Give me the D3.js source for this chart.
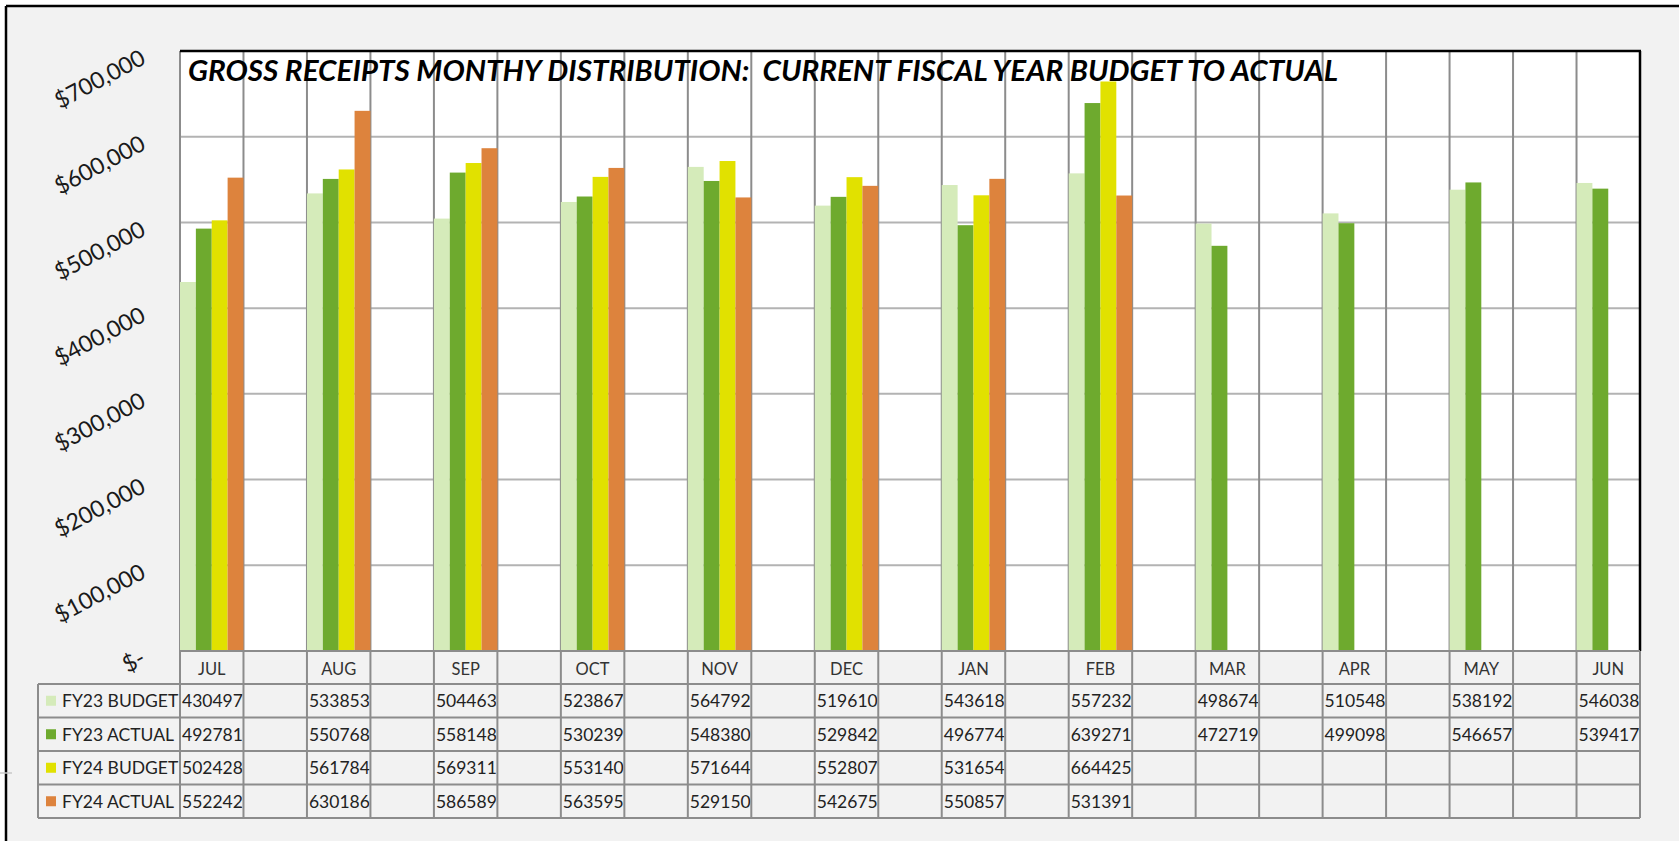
<!DOCTYPE html>
<html>
<head>
<meta charset="utf-8">
<script src="https://cdn.jsdelivr.net/npm/d3@7"></script>
<style>
  html, body { margin: 0; padding: 0; background: #ffffff; }
  svg { display: block; }
  text { font-family: Lato, "Open Sans", sans-serif; }
</style>
</head>
<body>
<svg id="chart" width="1679" height="841"></svg>
<script>
// ---- data ----
const months = ["JUL", "AUG", "SEP", "OCT", "NOV", "DEC", "JAN", "FEB", "MAR", "APR", "MAY", "JUN"];
const seriesNames = ["FY23 BUDGET", "FY23 ACTUAL", "FY24 BUDGET", "FY24 ACTUAL"];
const fy23Budget = [430497, 533853, 504463, 523867, 564792, 519610, 543618, 557232, 498674, 510548, 538192, 546038];
const fy23Actual = [492781, 550768, 558148, 530239, 548380, 529842, 496774, 639271, 472719, 499098, 546657, 539417];
const fy24Budget = [502428, 561784, 569311, 553140, 571644, 552807, 531654, 664425, null, null, null, null];
const fy24Actual = [552242, 630186, 586589, 563595, 529150, 542675, 550857, 531391, null, null, null, null];
const yTicks = [0, 100000, 200000, 300000, 400000, 500000, 600000, 700000];
const seriesColors = ["#D5EBBA", "#6EAA2E", "#E1E100", "#DD833D"];
const title = "GROSS RECEIPTS MONTHY DISTRIBUTION:  CURRENT FISCAL YEAR BUDGET TO ACTUAL";

const seriesValues = [fy23Budget, fy23Actual, fy24Budget, fy24Actual];

// ---- layout ----
const W = 1679, H = 841;
const plot = { left: 180, right: 1640, top: 51, bottom: 651 };
const catRowBottom = 684;
const rowH = 33.5;
const legendLeft = 38;
const gridV = "#8C8C8C", gridH = "#B3B3B3";

const svg = d3.select("#chart");

// background panels
svg.append("rect").attr("x", 0).attr("y", 0).attr("width", W).attr("height", H).attr("fill", "#ffffff");
svg.append("rect").attr("x", 6).attr("y", 6).attr("width", W - 6).attr("height", H - 6).attr("fill", "#F2F2F2");
// outer frame (top & left)
svg.append("line").attr("x1", 6).attr("x2", W).attr("y1", 6).attr("y2", 6).attr("stroke", "#000").attr("stroke-width", 2.5);
svg.append("line").attr("x1", 6).attr("x2", 6).attr("y1", 6).attr("y2", H).attr("stroke", "#000").attr("stroke-width", 2.5);
svg.append("line").attr("x1", 0).attr("x2", 12).attr("y1", 773).attr("y2", 773).attr("stroke", "#C8C8C8").attr("stroke-width", 1.5);

// plot area
svg.append("rect").attr("x", plot.left).attr("y", plot.top)
  .attr("width", plot.right - plot.left).attr("height", plot.bottom - plot.top).attr("fill", "#ffffff");

// scales: months interleaved with blank spacer columns
const slotCount = months.length * 2 - 1;
const x = d3.scaleBand().domain(d3.range(slotCount)).range([plot.left, plot.right]).padding(0);
const xs = d3.scaleBand().domain(seriesNames).range([0, x.bandwidth()]).padding(0);
const y = d3.scaleLinear().domain([0, 700000]).range([plot.bottom, plot.top]);
const slotOf = i => i * 2;

// horizontal gridlines
svg.append("g").selectAll("line").data(yTicks.filter(t => t > 0 && t < 700000)).join("line")
  .attr("x1", plot.left).attr("x2", plot.right)
  .attr("y1", d => y(d)).attr("y2", d => y(d))
  .attr("stroke", gridH).attr("stroke-width", 2);

// vertical gridlines in plot
const bounds = d3.range(slotCount + 1).map(i => plot.left + i * x.step());
svg.append("g").selectAll("line").data(bounds).join("line")
  .attr("x1", d => d).attr("x2", d => d)
  .attr("y1", plot.top).attr("y2", plot.bottom)
  .attr("stroke", gridV).attr("stroke-width", 2);

// bars
const barData = [];
seriesNames.forEach((s, si) => {
  months.forEach((m, mi) => {
    const v = seriesValues[si][mi];
    if (v != null) barData.push({ s, si, mi, v });
  });
});
svg.append("g").selectAll("rect").data(barData).join("rect")
  .attr("x", d => x(slotOf(d.mi)) + xs(d.s))
  .attr("y", d => y(d.v))
  .attr("width", xs.bandwidth())
  .attr("height", d => y(0) - y(d.v))
  .attr("fill", d => seriesColors[d.si]);

// plot border: top and right black
svg.append("line").attr("x1", plot.left).attr("x2", plot.right + 1).attr("y1", plot.top).attr("y2", plot.top).attr("stroke", "#000").attr("stroke-width", 2.5);
svg.append("line").attr("x1", plot.right).attr("x2", plot.right).attr("y1", plot.top).attr("y2", plot.bottom).attr("stroke", "#000").attr("stroke-width", 2.5);

// title
svg.append("text")
  .attr("x", 188).attr("y", 80.5)
  .attr("font-size", 28).attr("font-weight", "bold").attr("font-style", "italic")
  .attr("fill", "#000")
  .attr("textLength", 1150).attr("lengthAdjust", "spacingAndGlyphs")
  .style("white-space", "pre")
  .text(title);

// y axis labels
const fmt = v => v === 0 ? "$-" : "$" + d3.format(",")(v);
const yAxis = svg.append("g").attr("transform", `translate(${plot.left},0)`)
  .call(d3.axisLeft(y).tickValues(yTicks).tickFormat(fmt).tickSize(0));
yAxis.select(".domain").remove();
yAxis.selectAll("text")
  .attr("x", 0).attr("dy", 0)
  .attr("transform", "translate(-33,11.5) rotate(-28)")
  .attr("text-anchor", "end")
  .attr("font-family", "Lato, sans-serif")
  .attr("font-size", 23).attr("fill", "#1A1A1A");

// ---- data table ----
const tableBottom = catRowBottom + rowH * seriesNames.length;
const rowTops = d3.range(seriesNames.length).map(i => catRowBottom + i * rowH);

// category row labels
svg.append("g").selectAll("text").data(months).join("text")
  .attr("x", (d, i) => x(slotOf(i)) + x.bandwidth() / 2)
  .attr("y", 675)
  .attr("text-anchor", "middle")
  .attr("font-size", 16.5).attr("fill", "#333")
  .text(d => d);

// table cells values
const cellData = [];
seriesNames.forEach((s, si) => {
  months.forEach((m, mi) => {
    const v = seriesValues[si][mi];
    if (v != null) cellData.push({ si, mi, v });
  });
});
svg.append("g").selectAll("text").data(cellData).join("text")
  .attr("x", d => x(slotOf(d.mi)) + 2)
  .attr("y", d => rowTops[d.si] + rowH / 2 + 6.5)
  .attr("font-size", 17.5).attr("fill", "#222")
  .text(d => d.v);

// legend column
const leg = svg.append("g").selectAll("g").data(seriesNames).join("g")
  .attr("transform", (d, i) => `translate(${legendLeft},${rowTops[i]})`);
leg.append("rect").attr("x", 8).attr("y", rowH / 2 - 5).attr("width", 10).attr("height", 10)
  .attr("fill", (d, i) => seriesColors[i]);
leg.append("text").attr("x", 24).attr("y", rowH / 2 + 6.5)
  .attr("font-size", 17.5).attr("fill", "#222").text(d => d);

// table grid lines
const tg = svg.append("g").attr("stroke", gridV).attr("stroke-width", 2).attr("fill", "none");
// baseline / category row top
tg.append("line").attr("x1", plot.left).attr("x2", plot.right).attr("y1", plot.bottom).attr("y2", plot.bottom);
// row lines
[catRowBottom, ...rowTops.slice(1), tableBottom].forEach(yy => {
  tg.append("line").attr("x1", legendLeft).attr("x2", plot.right).attr("y1", yy).attr("y2", yy);
});
// vertical lines in category row and table
tg.selectAll("line.v").data(bounds).join("line").attr("class", "v")
  .attr("x1", d => d).attr("x2", d => d)
  .attr("y1", plot.bottom).attr("y2", tableBottom);
tg.append("line").attr("x1", legendLeft).attr("x2", legendLeft).attr("y1", catRowBottom).attr("y2", tableBottom);
</script>
</body>
</html>
